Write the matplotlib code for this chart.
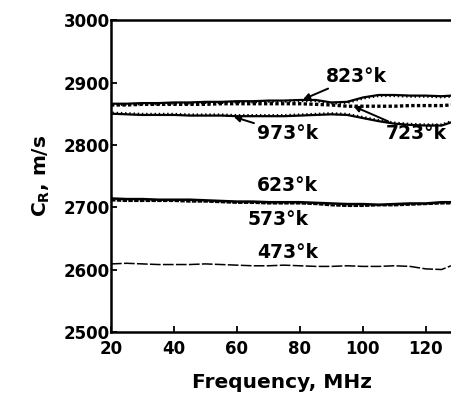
import matplotlib
matplotlib.use("Agg")
import matplotlib.pyplot as plt
import matplotlib.patheffects as pe

plt.rcParams['font.family'] = ['DejaVu Sans']

freq = [20, 25, 30, 35, 40, 45, 50, 55, 60, 65, 70, 75, 80, 85, 90, 95,
        100, 105, 110, 115, 120, 125, 128]
c823 = [2866, 2866, 2867, 2867, 2868, 2868, 2869, 2869, 2870, 2870, 2871, 2871,
        2872, 2872, 2868, 2869, 2876, 2880, 2880, 2879, 2879, 2878, 2879]
c723 = [2864, 2864, 2865, 2865, 2865, 2865, 2865, 2866, 2866, 2866, 2866, 2866,
        2866, 2865, 2864, 2862, 2862, 2862, 2862, 2863, 2863, 2863, 2864]
c973 = [2850, 2849, 2848, 2848, 2848, 2847, 2847, 2847, 2846, 2846, 2846, 2846,
        2847, 2848, 2849, 2848, 2843, 2838, 2834, 2832, 2831, 2831, 2836]
c623 = [2714, 2713, 2713, 2712, 2712, 2712, 2711, 2710, 2709, 2709, 2708, 2708,
        2708, 2707, 2706, 2705, 2705, 2704, 2705, 2706, 2706, 2708, 2708]
c573 = [2711, 2710, 2710, 2710, 2710, 2709, 2709, 2708, 2707, 2707, 2706, 2706,
        2706, 2705, 2703, 2702, 2702, 2703, 2703, 2704, 2705, 2706, 2706]
c473 = [2609, 2610, 2609, 2608, 2608, 2608, 2609, 2608, 2607, 2606, 2606, 2607,
        2606, 2605, 2605, 2606, 2605, 2605, 2606, 2605, 2601, 2600, 2606]

xticks = [20, 40, 60, 80, 100, 120]
yticks = [2500, 2600, 2700, 2800, 2900, 3000]

fig = plt.figure(figsize=(4.52, 3.96), dpi=100)
ax = fig.add_axes([0.2456, 0.162, 0.7544, 0.787])

ax.plot(freq, c823, color='black', lw=1.6,
        path_effects=[pe.withTickedStroke(spacing=3.0, angle=-90, length=0.35, linewidth=1.0)])
ax.plot(freq, c723, color='black', lw=2.4, ls=(0, (1.0, 0.7)))
ax.plot(freq, c973, color='black', lw=1.6,
        path_effects=[pe.withTickedStroke(spacing=3.0, angle=90, length=0.35, linewidth=1.0)])
ax.plot(freq, c623, color='black', lw=1.8)
ax.plot(freq, c573, color='black', lw=1.6, ls=(0, (2, 0.6)))
ax.plot(freq, c473, color='black', lw=1.1, ls=(0, (7, 1.5)))

ax.set_xlim(20, 128.3)
ax.set_ylim(2500, 3000)
ax.set_xticks(xticks)
ax.set_yticks(yticks)
ax.spines['right'].set_visible(False)
for s in ['left', 'bottom', 'top']:
    ax.spines[s].set_linewidth(1.8)
ax.tick_params(direction='in', length=4, width=1.3, labelsize=12, pad=1)
ax.tick_params(axis='x', pad=6)
for lab in ax.get_xticklabels() + ax.get_yticklabels():
    lab.set_fontweight('bold')

ax.set_xlabel('Frequency, MHz', fontsize=14.5, fontweight='bold', labelpad=11)
ax.set_ylabel(r'C$_\mathbf{R}$, m/s', fontsize=14.5, fontweight='bold', labelpad=8)

tk = dict(fontsize=13.5, fontweight='bold', ha='center', va='center')
arrow = dict(arrowstyle='-|>', color='black', lw=1.4, mutation_scale=9,
             shrinkA=0, shrinkB=0)
ax.annotate('823°k', xy=(81, 2873), xytext=(98, 2910), arrowprops=arrow, **tk)
ax.annotate('973°k', xy=(59, 2845), xytext=(76, 2818), arrowprops=arrow, **tk)
ax.annotate('723°k', xy=(97, 2862), xytext=(117, 2818), arrowprops=arrow, **tk)
ax.text(76, 2734, '623°k', **tk)
ax.text(73, 2681, '573°k', **tk)
ax.text(76, 2627, '473°k', **tk)

fig.savefig('out.png', dpi=100)
